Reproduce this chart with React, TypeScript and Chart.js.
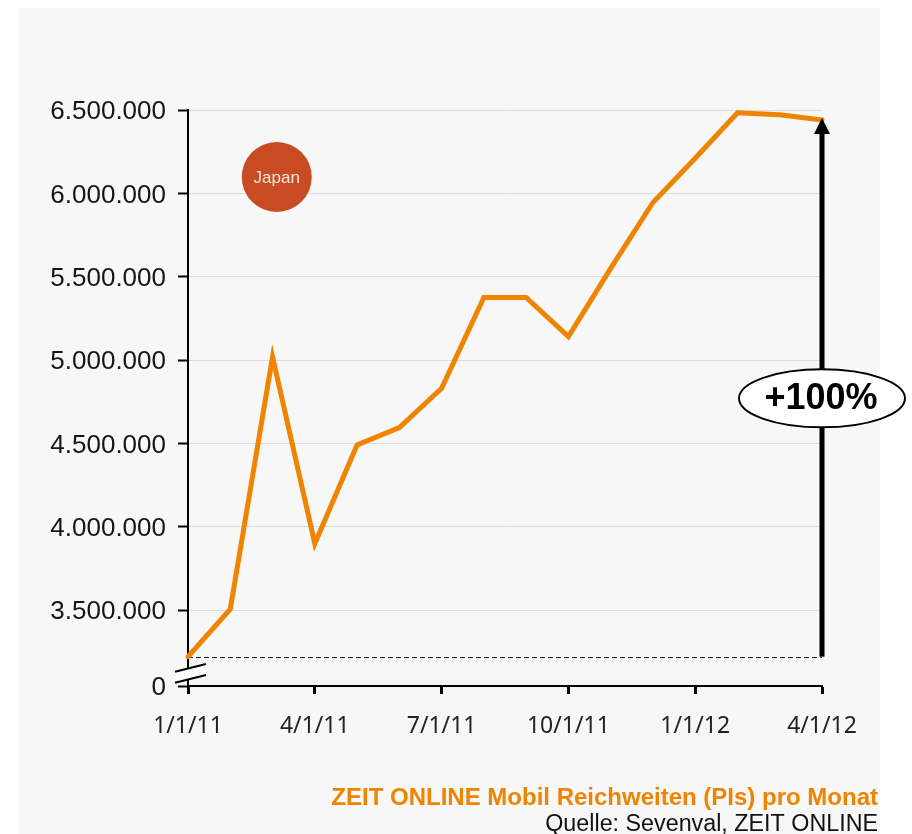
import React, { useEffect, useRef } from 'react';
import { Chart, registerables } from 'chart.js';

Chart.register(...registerables);

// ---- data ----
const months = [
  'Jan 11', 'Feb 11', 'Mar 11', 'Apr 11', 'May 11', 'Jun 11', 'Jul 11', 'Aug 11',
  'Sep 11', 'Oct 11', 'Nov 11', 'Dec 11', 'Jan 12', 'Feb 12', 'Mar 12', 'Apr 12',
];
const reach = [
  3220000, 3505000, 5018000, 3898000, 4490000, 4595000, 4830000, 5375000,
  5375000, 5140000, 5550000, 5945000, 6210000, 6483000, 6472000, 6440000,
];
const xTickMonths = [0, 3, 6, 9, 12, 15];
const xTickLabels = ['1/1/11', '4/1/11', '7/1/11', '10/1/11', '1/1/12', '4/1/12'];
const yTickValues = [3500000, 4000000, 4500000, 5000000, 5500000, 6000000, 6500000];
const axisFloor = 3044000; // shown as "0" (broken axis)
const axisTop = 6500000;
const baseValue = 3220000;
const endValue = 6440000;
const growthLabel = '+100%';
const growthLabelValue = 4770000;
const eventLabel = 'Japan';
const eventMonth = 2.1;
const eventValue = 6098000;
const titleText = 'ZEIT ONLINE Mobil Reichweiten (PIs) pro Monat';
const sourceText = 'Quelle: Sevenval, ZEIT ONLINE';

const ORANGE = '#F08300';

function fmt(v: number): string {
  return Math.round(v).toString().replace(/\B(?=(\d{3})+(?!\d))/g, '.');
}

const decor = {
  id: 'decor',
  beforeDraw(chart: any) {
    const { ctx, width, height } = chart;
    ctx.save();
    ctx.fillStyle = '#ffffff';
    ctx.fillRect(0, 0, width, height);
    ctx.fillStyle = '#f7f7f7';
    ctx.fillRect(18, 8, 862, height - 8);
    ctx.restore();
  },
  beforeDatasetsDraw(chart: any) {
    const { ctx, scales } = chart;
    const x = scales.x;
    const y = scales.y;
    ctx.save();
    // dashed baseline
    const yb = Math.round(y.getPixelForValue(baseValue)) + 0.5;
    ctx.strokeStyle = '#222';
    ctx.lineWidth = 1;
    ctx.setLineDash([5, 3]);
    ctx.beginPath();
    ctx.moveTo(x.getPixelForValue(0), yb);
    ctx.lineTo(x.getPixelForValue(15), yb);
    ctx.stroke();
    ctx.setLineDash([]);
    // event bubble
    const cx = x.getPixelForValue(eventMonth);
    const cy = y.getPixelForValue(eventValue);
    ctx.fillStyle = '#C94B24';
    ctx.beginPath();
    ctx.arc(cx, cy, 35, 0, Math.PI * 2);
    ctx.fill();
    ctx.fillStyle = '#f8e6df';
    ctx.font = '17px "Liberation Sans"';
    ctx.textAlign = 'center';
    ctx.textBaseline = 'middle';
    ctx.fillText(eventLabel, cx, cy + 1);
    ctx.restore();
  },
  afterDatasetsDraw(chart: any) {
    const { ctx, scales } = chart;
    const x = scales.x;
    const y = scales.y;
    ctx.save();
    const ax = x.getPixelForValue(15);
    const y0 = y.getPixelForValue(baseValue);
    const y1 = y.getPixelForValue(endValue);
    ctx.fillStyle = '#000';
    // shaft
    ctx.fillRect(ax - 2.5, y1 + 12, 5, y0 - (y1 + 12));
    // head
    ctx.beginPath();
    ctx.moveTo(ax, y1 - 2);
    ctx.lineTo(ax - 8, y1 + 14);
    ctx.lineTo(ax + 8, y1 + 14);
    ctx.closePath();
    ctx.fill();
    // ellipse label
    const ey = y.getPixelForValue(growthLabelValue);
    ctx.beginPath();
    ctx.ellipse(ax, ey, 83, 29, 0, 0, Math.PI * 2);
    ctx.fillStyle = '#ffffff';
    ctx.fill();
    ctx.lineWidth = 2;
    ctx.strokeStyle = '#000';
    ctx.stroke();
    ctx.fillStyle = '#000';
    ctx.font = 'bold 36px "Liberation Sans"';
    ctx.textAlign = 'center';
    ctx.textBaseline = 'middle';
    ctx.fillText(growthLabel, ax - 1, ey + 1);
    ctx.restore();
  },
  afterDraw(chart: any) {
    const { ctx, scales, chartArea } = chart;
    const x = scales.x;
    ctx.save();
    // axis break marks
    const l = x.left - 13;
    const r = l + 31;
    const b = chartArea.bottom;
    ctx.fillStyle = '#ffffff';
    ctx.beginPath();
    ctx.moveTo(l, b - 14.3);
    ctx.lineTo(r, b - 22);
    ctx.lineTo(r, b - 11);
    ctx.lineTo(l, b - 3.3);
    ctx.closePath();
    ctx.fill();
    ctx.strokeStyle = '#000';
    ctx.lineWidth = 2;
    ctx.beginPath();
    ctx.moveTo(l, b - 14.3);
    ctx.lineTo(r, b - 22);
    ctx.moveTo(l, b - 3.3);
    ctx.lineTo(r, b - 11);
    ctx.stroke();
    // footer
    ctx.textAlign = 'right';
    ctx.textBaseline = 'alphabetic';
    ctx.fillStyle = ORANGE;
    ctx.font = 'bold 24px "Liberation Sans"';
    ctx.fillText(titleText, 878, 805);
    ctx.fillStyle = '#111';
    ctx.font = '23.3px "Liberation Sans"';
    ctx.fillText(sourceText, 878, 831);
    ctx.restore();
  },
};

export default function App() {
  const ref = useRef<HTMLCanvasElement | null>(null);
  useEffect(() => {
    if (!ref.current) return;
    const chart = new Chart(ref.current, {
      type: 'line',
      data: {
        labels: months,
        datasets: [
          {
            label: 'Reichweite',
            data: reach.map((v, i) => ({ x: i, y: v })),
            borderColor: ORANGE,
            backgroundColor: ORANGE,
            borderWidth: 5,
            pointRadius: 0,
            tension: 0,
            borderCapStyle: 'round',
            borderJoinStyle: 'miter',
            clip: false,
          } as any,
        ],
      },
      options: {
        animation: false,
        responsive: false,
        devicePixelRatio: 1,
        layout: { padding: { left: 0, right: 90, top: 110, bottom: 0 } },
        plugins: { legend: { display: false }, tooltip: { enabled: false }, title: { display: false } },
        scales: {
          x: {
            type: 'linear',
            min: 0,
            max: 15,
            afterBuildTicks: (s: any) => {
              s.ticks = xTickMonths.map((v) => ({ value: v }));
            },
            afterFit: (s: any) => {
              s.height = 148;
            },
            ticks: {
              callback: (_v: any, i: number) => xTickLabels[i],
              font: { family: 'Noto Sans', size: 23 },
              color: '#222',
              padding: 19,
              maxRotation: 0,
              autoSkip: false,
            },
            grid: { drawOnChartArea: false, tickLength: 8, tickWidth: 3, tickColor: '#000' },
            border: { display: true, color: '#000', width: 2 },
          },
          y: {
            type: 'linear',
            min: axisFloor,
            max: axisTop,
            afterBuildTicks: (s: any) => {
              s.ticks = [axisFloor, ...yTickValues].map((v) => ({ value: v }));
            },
            afterFit: (s: any) => {
              s.width = 188;
            },
            ticks: {
              callback: (v: any) => (v === axisFloor ? '0' : fmt(v)),
              font: { family: 'Liberation Sans', size: 26 },
              color: '#151515',
              padding: 12,
              labelOffset: 2,
              autoSkip: false,
            },
            grid: {
              color: (c: any) => (c.tick && c.tick.value === axisFloor ? 'rgba(0,0,0,0)' : '#dcdcdc'),
              lineWidth: 1,
              tickColor: '#000',
              tickLength: 10,
              tickWidth: 2,
            },
            border: { display: true, color: '#000', width: 2 },
          },
        },
      } as any,
      plugins: [decor],
    });
    return () => chart.destroy();
  }, []);
  return (
    <div style={{ position: 'absolute', left: 0, top: 0, width: 912, height: 834 }}>
      <canvas ref={ref} width={912} height={834} style={{ display: 'block' }} />
    </div>
  );
}
